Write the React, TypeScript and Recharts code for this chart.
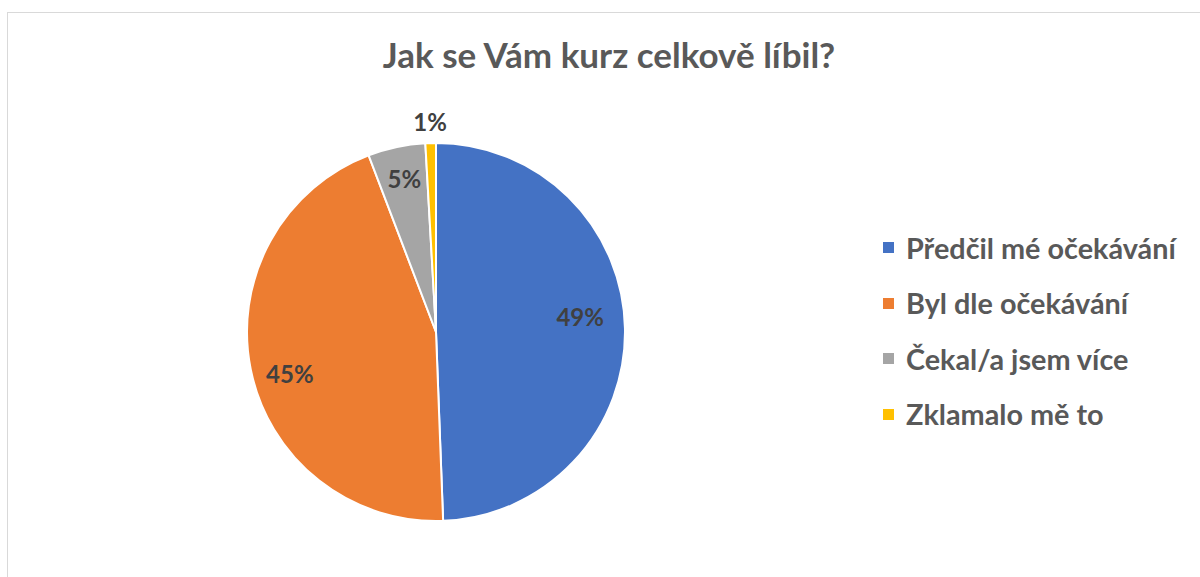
import { Cell, Legend, Pie, PieChart } from "recharts";

const LABELS = [
  "Předčil mé očekávání",
  "Byl dle očekávání",
  "Čekal/a jsem více",
  "Zklamalo mě to",
];
const VALUES = [49.4, 44.8, 4.9, 0.9];
const COLORS = ["#4472c4", "#ed7d31", "#a5a5a5", "#ffc000"];

const FONT = "Lato, 'Open Sans', sans-serif";
const RADIAN = Math.PI / 180;
// small label nudges so they sit like the Excel "best fit" labels
const NUDGE = [
  [-7, -13],
  [2, 11],
  [0, -6],
  [0, 0],
];

const data = LABELS.map((name, i) => ({ name, value: VALUES[i] }));

function renderLabel(props: any) {
  const { cx, cy, midAngle, outerRadius, percent, index } = props;
  // the smallest slice gets its label outside the pie
  const r = index === 3 ? outerRadius + 22 : outerRadius * 0.8;
  const x = cx + r * Math.cos(-midAngle * RADIAN) + NUDGE[index][0];
  const y = cy + r * Math.sin(-midAngle * RADIAN) + NUDGE[index][1];
  return (
    <text
      x={x}
      y={y}
      fill="#404040"
      textAnchor="middle"
      dominantBaseline="central"
      fontFamily={FONT}
      fontWeight={700}
      fontSize={24}
    >
      {`${Math.round(percent * 100)}%`}
    </text>
  );
}

function LegendList() {
  return (
    <div style={{ fontFamily: FONT }}>
      {LABELS.map((l, i) => (
        <div
          key={l}
          style={{
            display: "flex",
            alignItems: "center",
            height: 55.5,
            fontSize: 28.8,
            fontWeight: 700,
            color: "#595959",
            whiteSpace: "nowrap",
          }}
        >
          <span
            style={{
              width: 11,
              height: 11,
              background: COLORS[i],
              marginRight: 12,
              display: "inline-block",
              flexShrink: 0,
            }}
          />
          {l}
        </div>
      ))}
    </div>
  );
}

export default function App() {
  return (
    <div
      style={{
        position: "absolute",
        left: 0,
        top: 0,
        width: 1200,
        height: 577,
        background: "#fff",
        overflow: "hidden",
      }}
    >
      <div
        style={{
          position: "absolute",
          left: 7,
          top: 12,
          width: 1193,
          height: 565,
          borderTop: "1px solid #d9d9d9",
          borderLeft: "1px solid #d9d9d9",
          boxSizing: "border-box",
        }}
      />
      <div
        style={{
          position: "absolute",
          left: 0,
          top: 33,
          width: 1218,
          textAlign: "center",
          fontFamily: FONT,
          fontWeight: 700,
          fontSize: 35,
          color: "#595959",
        }}
      >
        Jak se Vám kurz celkově líbil?
      </div>
      <div style={{ position: "absolute", left: 0, top: 0 }}>
        <PieChart width={1200} height={577}>
          <Pie
            data={data}
            dataKey="value"
            nameKey="name"
            cx={431}
            cy={327}
            outerRadius={189}
            startAngle={90}
            endAngle={-270}
            stroke="#fff"
            strokeWidth={2}
            label={renderLabel}
            labelLine={false}
            isAnimationActive={false}
          >
            {data.map((_, i) => (
              <Cell key={i} fill={COLORS[i]} />
            ))}
          </Pie>
          <Legend
            content={<LegendList />}
            wrapperStyle={{ left: 883, top: 220, width: 317 }}
          />
        </PieChart>
      </div>
    </div>
  );
}
